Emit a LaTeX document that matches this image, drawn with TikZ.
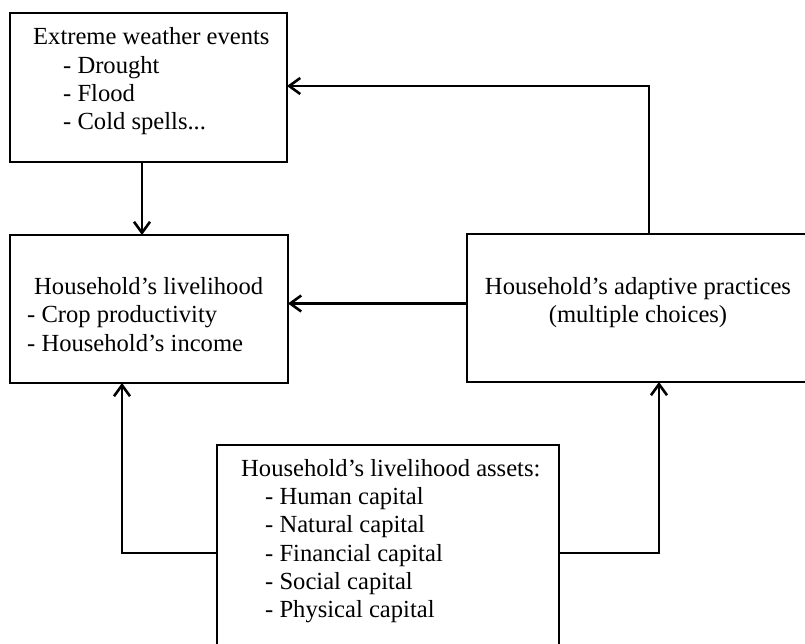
\documentclass[tikz,border=0pt]{standalone}
\usepackage{fontspec}
\setmainfont{Liberation Serif}
\usetikzlibrary{arrows.meta}
\begin{document}
\begin{tikzpicture}[x=1pt,y=-1pt,
  box/.style={draw, line width=2.9pt, inner sep=0pt, outer sep=0pt, anchor=north west},
  txt/.style={anchor=base west, inner sep=0pt, font=\fontsize{24.6}{28}\selectfont},
  ctxt/.style={txt, anchor=base},
  arr/.style={line width=2.6pt, -{Straight Barb[length=11pt,width=16pt]}}]
\useasboundingbox (0,0) rectangle (805,644);
\fill[white] (0,0) rectangle (805,644);
\clip (0,0) rectangle (805,644);
% boxes
\node[box, minimum width=277pt, minimum height=149pt] (b1) at (10,13) {};
\node[box, minimum width=278pt, minimum height=148pt] (b2) at (10,235) {};
\node[box, minimum width=370pt, minimum height=148pt] (b3) at (467,234) {};
\node[box, minimum width=342pt, minimum height=240pt] (b4) at (217,445) {};
% texts
\node[txt] (t11) at (33,45) {Extreme weather events};
\node[txt] (t12) at (63,73.5) {- Drought};
\node[txt] (t13) at (63,102) {- Flood};
\node[txt] (t14) at (63,130) {- Cold spells...};
\node[txt] (t21) at (34,294) {Household’s livelihood};
\node[txt] (t22) at (27,322.5) {- Crop productivity};
\node[txt] (t23) at (27,351) {- Household’s income};
\node[ctxt] (t31) at (638,294) {Household’s adaptive practices};
\node[ctxt] (t32) at (638,322) {(multiple choices)};
\node[txt] (t41) at (241,476) {Household’s livelihood assets:};
\node[txt] (t42) at (265,504) {- Human capital};
\node[txt] (t43) at (265,532.5) {- Natural capital};
\node[txt] (t44) at (265,561) {- Financial capital};
\node[txt] (t45) at (265,589) {- Social capital};
\node[txt] (t46) at (265,617) {- Physical capital};
% guides
\coordinate (xa) at (142,0);
\coordinate (xb) at (649,0);
\coordinate (xc) at (122,0);
\coordinate (xd) at (659,0);
\coordinate (ya) at (0,86);
\coordinate (yb) at (0,303.5);
\coordinate (yc) at (0,553);
% connectors
\draw[arr] (xa |- b1.south) -- (xa |- b2.north);
\draw[arr] (xb |- b3.north) -- (xb |- ya) -- (ya -| b1.east);
\draw[arr] (yb -| b3.west) -- (yb -| b2.east);
\draw[arr] (yc -| b4.west) -- (yc -| xc) -- (xc |- b2.south);
\draw[arr] (yc -| b4.east) -- (yc -| xd) -- (xd |- b3.south);
\end{tikzpicture}
\end{document}
